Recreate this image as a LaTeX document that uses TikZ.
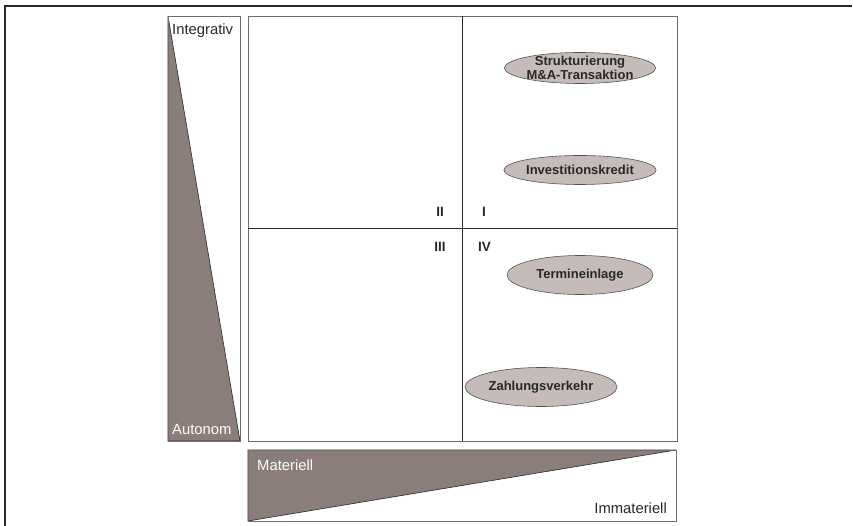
\documentclass[tikz,border=0pt]{standalone}
\usepackage{fontspec}
\setmainfont{Liberation Sans}
\usetikzlibrary{shapes.geometric}
\definecolor{wedge}{RGB}{139,125,121}
\definecolor{oval}{RGB}{197,188,185}
\definecolor{rim}{RGB}{110,110,110}
\definecolor{ink}{RGB}{40,40,40}
\tikzstyle{box} = [draw=rim, line width=0.9pt]
\tikzstyle{wedgefill} = [fill=wedge, draw=ink, line width=0.6pt]
\tikzstyle{product} = [ellipse, minimum width=149pt, minimum height=31pt, inner xsep=0pt, inner ysep=-6pt, align=center, text centered, draw=ink!80, line width=0.6pt, fill=oval, font=\fontsize{13}{14}\selectfont\bfseries, text=ink]
\tikzstyle{axislabel} = [font=\fontsize{14.8}{17}\selectfont, inner sep=0pt]
\tikzstyle{quadrant} = [font=\fontsize{13.5}{15}\selectfont\bfseries, text=ink, inner sep=0pt]

\begin{document}
\begin{tikzpicture}[x=1pt, y=-1pt] % pixel grid, y down

\useasboundingbox (0,0) rectangle (853,526);

% Frame
\draw [ink, line width=1.4pt] (5,526) -- (5,6) -- (852,6);

% Left panel
\filldraw [wedgefill] (168,16) -- (240,441) -- (168,441) -- cycle;
\draw [box] (168,16) rectangle (240,441);
\node (integrativ) [axislabel, anchor=west, text=ink] at (172,31) {Integrativ};
\node (autonom) [axislabel, anchor=west, text=white] at (172,429) {Autonom};

% Bottom panel
\filldraw [wedgefill] (248,450) -- (676,450) -- (248,521) -- cycle;
\draw [box] (248,450) rectangle (676,521);
\node (materiell) [axislabel, anchor=west, text=white] at (257,465) {Materiell};
\node (immateriell) [axislabel, anchor=east, text=ink] at (667,508) {Immateriell};

% Quadrants
\draw [box] (248,16) rectangle (677,441);
\draw [ink, line width=0.8pt] (462,16) -- (462,441);
\draw [ink, line width=0.8pt] (248,228) -- (677,228);
\node (q2) [quadrant] at (440,212) {II};
\node (q1) [quadrant] at (484,212) {I};
\node (q3) [quadrant] at (440,247) {III};
\node (q4) [quadrant] at (484.5,247) {IV};

% Nodes
\node (mna) [product] at (580,68) {Strukturierung\\M\&A-Transaktion};
\node (kredit) [product, minimum height=29pt] at (580,170) {Investitionskredit};
\node (termin) [product, minimum width=146pt, minimum height=39pt] at (580,275) {Termineinlage};
\node (zahlung) [product, minimum width=152pt, minimum height=39pt] at (541,387) {Zahlungsverkehr};

\end{tikzpicture}
\end{document}
